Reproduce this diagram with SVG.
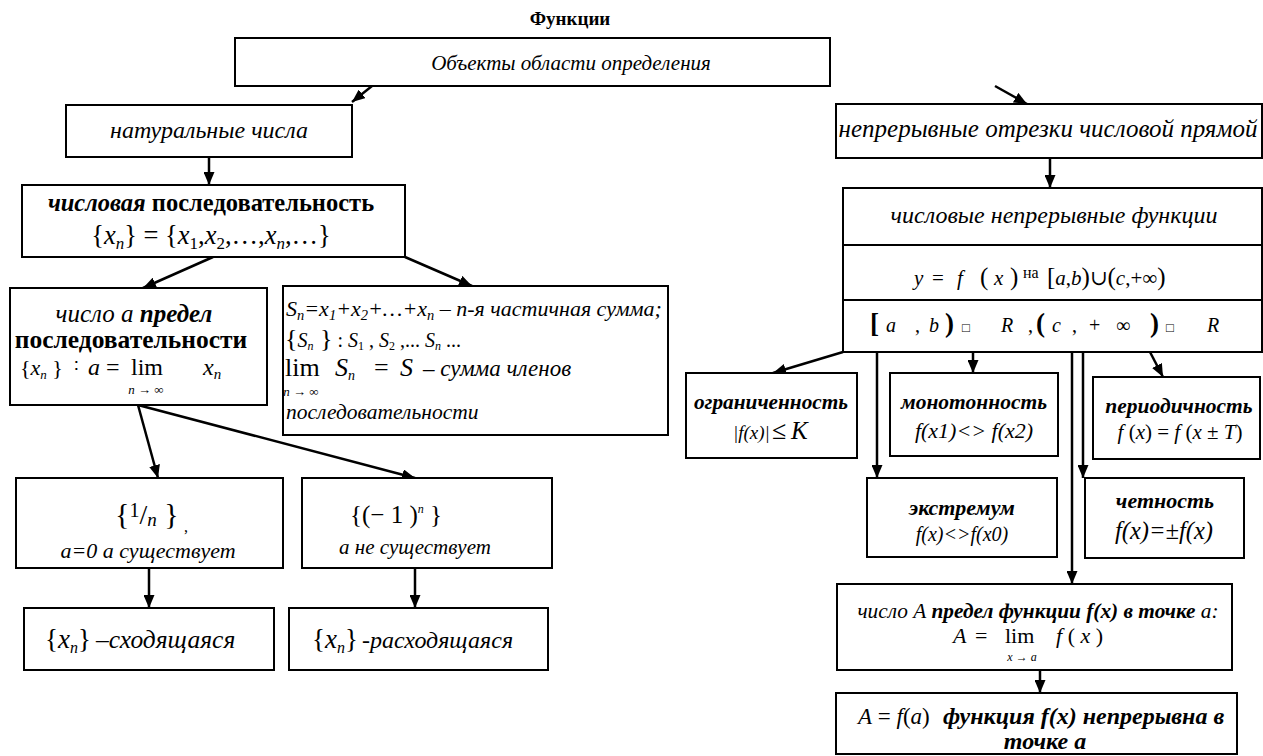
<svg xmlns="http://www.w3.org/2000/svg" width="1263" height="756" viewBox="0 0 1263 756" font-family="'Liberation Serif', 'DejaVu Serif', serif">
<defs>
<style>
.bx{fill:#fff;stroke:#000;stroke-width:2}
.ln{fill:none;stroke:#000;stroke-width:2.5;marker-end:url(#ah)}
.pl{fill:none;stroke:#000;stroke-width:2}
text{font-family:'Liberation Serif','DejaVu Serif','Noto Serif',serif;fill:#000}
.i{font-style:italic}
.b{font-weight:bold}
.c{text-anchor:middle}
</style>
<marker id="ah" viewBox="0 0 13 11" refX="13" refY="5.5" markerWidth="13" markerHeight="11" markerUnits="userSpaceOnUse" orient="auto">
<path d="M0,0 L13,5.5 L0,11 z" fill="#000"/>
</marker>
</defs>
<rect width="1263" height="756" fill="#fff"/>

<g id="title"><text x="570" y="25" class="b c" font-size="19">Функции</text></g>

<g id="connectors">
<line class="ln" x1="372" y1="86" x2="352" y2="102"/>
<line class="ln" x1="995" y1="86" x2="1027" y2="104"/>
<line class="ln" x1="209" y1="157" x2="209" y2="185"/>
<line class="ln" x1="1050" y1="158" x2="1050" y2="188"/>
<line class="ln" x1="213" y1="257" x2="143" y2="288"/>
<line class="ln" x1="405" y1="257" x2="472" y2="286"/>
<line class="ln" x1="138" y1="405" x2="158" y2="478"/>
<line class="ln" x1="138" y1="405" x2="415" y2="478"/>
<line class="ln" x1="149" y1="568" x2="149" y2="608"/>
<line class="ln" x1="415" y1="568" x2="415" y2="608"/>
<line class="ln" x1="843" y1="352" x2="773" y2="373"/>
<line class="ln" x1="877" y1="352" x2="877" y2="478"/>
<line class="ln" x1="973" y1="352" x2="973" y2="373"/>
<line class="ln" x1="1083" y1="352" x2="1083" y2="478"/>
<line class="ln" x1="1072" y1="352" x2="1072" y2="584"/>
<line class="ln" x1="1150" y1="352" x2="1163" y2="377"/>
<line class="ln" x1="1040" y1="670" x2="1040" y2="693"/>
</g>

<g id="objects">
<rect class="bx" x="235" y="38" width="595" height="48"/>
<text x="571" y="70" class="i c" font-size="21">Объекты области определения</text>
</g>

<g id="natural">
<rect class="bx" x="66" y="105" width="286" height="52"/>
<text x="209" y="138" class="i c" font-size="24">натуральные числа</text>
</g>

<g id="sequence">
<rect class="bx" x="22" y="185" width="383" height="72"/>
<text x="211" y="211" class="c b" font-size="24.5"><tspan class="i">числовая</tspan> последовательность</text>
<text x="211" y="244" class="c" font-size="26.5">{<tspan class="i">x</tspan><tspan font-size="17" dy="5" class="i">n</tspan><tspan dy="-5">} = {</tspan><tspan class="i">x</tspan><tspan font-size="17" dy="5">1</tspan><tspan dy="-5">,</tspan><tspan class="i">x</tspan><tspan font-size="17" dy="5">2</tspan><tspan dy="-5">,…,</tspan><tspan class="i">x</tspan><tspan font-size="17" dy="5" class="i">n</tspan><tspan dy="-5">,…}</tspan></text>
</g>

<g id="limit-seq">
<rect class="bx" x="10" y="288" width="257" height="117"/>
<text x="134" y="322" class="c" font-size="25"><tspan class="i">число а </tspan><tspan class="i b">предел</tspan></text>
<text x="131" y="348" class="c b" font-size="25.5">последовательности</text>
<text x="20" y="375" font-size="22">{<tspan class="i">x</tspan><tspan font-size="13" dy="4" class="i">n</tspan><tspan dy="-4"> }</tspan></text>
<text x="74" y="372" font-size="18">∶</text>
<text x="88" y="375" class="i" font-size="24">a</text>
<text x="106" y="375" font-size="24">=</text>
<text x="131" y="375" font-size="24">lim</text>
<text x="146" y="394" class="c" font-size="13"><tspan class="i">n</tspan> → ∞</text>
<text x="203" y="375" class="i" font-size="24">x<tspan font-size="15" dy="4">n</tspan></text>
</g>

<g id="partial-sum">
<rect class="bx" x="283" y="286" width="385" height="149"/>
<text x="286" y="316" class="i" font-size="22">S<tspan font-size="14.5" dy="4">n</tspan><tspan dy="-4">=x</tspan><tspan font-size="14.5" dy="4">1</tspan><tspan dy="-4">+x</tspan><tspan font-size="14.5" dy="4">2</tspan><tspan dy="-4">+…+x</tspan><tspan font-size="14.5" dy="4">n</tspan><tspan dy="-4"> – n-я частичная сумма;</tspan></text>
<text x="285" y="347" font-size="20"><tspan font-size="26">{</tspan><tspan class="i">S</tspan><tspan font-size="12" dy="3" class="i">n</tspan><tspan dy="-3" font-size="26"> }</tspan> : <tspan class="i">S</tspan><tspan font-size="12" dy="3">1</tspan><tspan dy="-3"> , </tspan><tspan class="i">S</tspan><tspan font-size="12" dy="3">2</tspan><tspan dy="-3"> ,... </tspan><tspan class="i">S</tspan><tspan font-size="12" dy="3" class="i">n</tspan><tspan dy="-3"> ...</tspan></text>
<text x="285" y="376" font-size="26">lim</text>
<text x="301" y="396" class="c" font-size="13"><tspan class="i">n</tspan> → ∞</text>
<text x="335" y="376" class="i" font-size="26">S<tspan font-size="14" dy="4">n</tspan></text>
<text x="374" y="376" font-size="26">=</text>
<text x="400" y="376" class="i" font-size="26">S</text>
<text x="423" y="376" class="i" font-size="23">– сумма членов</text>
<text x="286" y="419" class="i" font-size="21.5">последовательности</text>
</g>

<g id="one-over-n">
<rect class="bx" x="16" y="478" width="267" height="90"/>
<text x="115" y="524" font-size="30">{<tspan font-size="20" dy="-7">1</tspan><tspan font-size="28" dy="7">/</tspan><tspan font-size="19" dy="2" class="i">n</tspan><tspan dy="-2"> }</tspan></text>
<text x="184" y="532" font-size="16">,</text>
<text x="148" y="558" class="i c" font-size="22">a=0 а существует</text>
</g>

<g id="minus-one-n">
<rect class="bx" x="302" y="478" width="250" height="90"/>
<text x="396" y="523" class="c" font-size="25">{(− 1 )<tspan font-size="12" dy="-10" class="i">n</tspan><tspan dy="10"> }</tspan></text>
<text x="415" y="554" class="i c" font-size="21">а не существует</text>
</g>

<g id="convergent">
<rect class="bx" x="24" y="608" width="250" height="62"/>
<text x="45" y="648" font-size="27">{<tspan class="i">x</tspan><tspan font-size="16" dy="5" class="i">n</tspan><tspan dy="-5">}</tspan></text>
<text x="96" y="648" class="i" font-size="25.5">–сходящаяся</text>
</g>

<g id="divergent">
<rect class="bx" x="289" y="608" width="259" height="62"/>
<text x="312" y="648" font-size="27">{<tspan class="i">x</tspan><tspan font-size="16" dy="5" class="i">n</tspan><tspan dy="-5">}</tspan></text>
<text x="362" y="648" class="i" font-size="24">-расходящаяся</text>
</g>

<g id="continuous-segments">
<rect class="bx" x="836" y="104" width="426" height="54"/>
<text x="1048" y="137" class="i c" font-size="25">непрерывные отрезки числовой прямой</text>
</g>

<g id="numeric-functions">
<rect class="bx" x="843" y="188" width="419" height="164"/>
<line class="pl" x1="843" y1="245" x2="1262" y2="245"/>
<line class="pl" x1="843" y1="300" x2="1262" y2="300"/>
<text x="1054" y="223" class="i c" font-size="24">числовые непрерывные функции</text>
<text y="285" font-size="21"><tspan x="914" class="i">y</tspan><tspan x="932">=</tspan><tspan x="957" class="i">f</tspan><tspan x="980" font-size="25">(</tspan><tspan x="994" class="i">x</tspan><tspan x="1010" font-size="25">)</tspan><tspan x="1023" font-size="16" dy="-7">на</tspan><tspan x="1047" dy="7" font-size="25">[</tspan><tspan class="i">a</tspan>,<tspan class="i">b</tspan><tspan font-size="25">)</tspan>∪<tspan font-size="25">(</tspan><tspan class="i">c</tspan>,+∞<tspan font-size="25">)</tspan></text>
<text y="332" font-size="20"><tspan x="870" font-size="27" font-weight="bold">[</tspan><tspan x="886" class="i">a</tspan><tspan x="915">,</tspan><tspan x="929" class="i">b</tspan><tspan x="945" font-size="27" font-weight="bold">)</tspan><tspan x="962" font-size="13">□</tspan><tspan x="1001" class="i">R</tspan><tspan x="1028">,</tspan><tspan x="1036" font-size="27" font-weight="bold">(</tspan><tspan x="1052" class="i">c</tspan><tspan x="1072">,</tspan><tspan x="1089">+</tspan><tspan x="1116">∞</tspan><tspan x="1150" font-size="27" font-weight="bold">)</tspan><tspan x="1166" font-size="13">□</tspan><tspan x="1207" class="i">R</tspan></text>
</g>

<g id="boundedness">
<rect class="bx" x="686" y="373" width="171" height="85"/>
<text x="771" y="409" class="i b c" font-size="21.3">ограниченность</text>
<text x="733" y="439" class="i" font-size="19">|f(x)|</text>
<text x="772" y="439" font-size="26">≤</text>
<text x="791" y="439" class="i" font-size="25">K</text>
</g>

<g id="monotonicity">
<rect class="bx" x="890" y="373" width="168" height="83"/>
<text x="974" y="409" class="i b c" font-size="21.5">монотонность</text>
<text x="974" y="438" class="i c" font-size="22">f(x1)&lt;&gt; f(x2)</text>
</g>

<g id="periodicity">
<rect class="bx" x="1093" y="377" width="167" height="82"/>
<text x="1179" y="413" class="i b c" font-size="21.5">периодичность</text>
<text x="1180" y="439" class="c" font-size="21"><tspan class="i">f</tspan> (<tspan class="i">x</tspan>) = <tspan class="i">f</tspan> (<tspan class="i">x</tspan> ± <tspan class="i">T</tspan>)</text>
</g>

<g id="extremum">
<rect class="bx" x="867" y="478" width="190" height="79"/>
<text x="962" y="515" class="i b c" font-size="22">экстремум</text>
<text x="962" y="541" class="i c" font-size="20">f(x)&lt;&gt;f(x0)</text>
</g>

<g id="parity">
<rect class="bx" x="1085" y="478" width="159" height="80"/>
<text x="1165" y="508" class="i b c" font-size="22">четность</text>
<text x="1164" y="539" class="i c" font-size="24.5">f(x)=±f(x)</text>
</g>

<g id="function-limit">
<rect class="bx" x="837" y="584" width="395" height="86"/>
<text x="1038" y="618" class="i c" font-size="21.3">число А <tspan class="b">предел функции f(x) в точке</tspan> а:</text>
<text x="953" y="643" class="i" font-size="22">A</text>
<text x="975" y="643" font-size="22">=</text>
<text x="1005" y="643" font-size="22">lim</text>
<text x="1022" y="661" class="c" font-size="12"><tspan class="i">x</tspan> → <tspan class="i">a</tspan></text>
<text x="1056" y="643" font-size="22"><tspan class="i">f</tspan> ( <tspan class="i">x</tspan> )</text>
</g>

<g id="continuity">
<rect class="bx" x="836" y="693" width="401" height="61"/>
<text x="858" y="724" font-size="23"><tspan class="i">A</tspan> = <tspan class="i">f</tspan>(<tspan class="i">a</tspan>)</text>
<text x="943" y="724" class="i b" font-size="24">функция f(x) непрерывна в</text>
<text x="1045" y="749" class="i b c" font-size="24">точке а</text>
</g>
</svg>
